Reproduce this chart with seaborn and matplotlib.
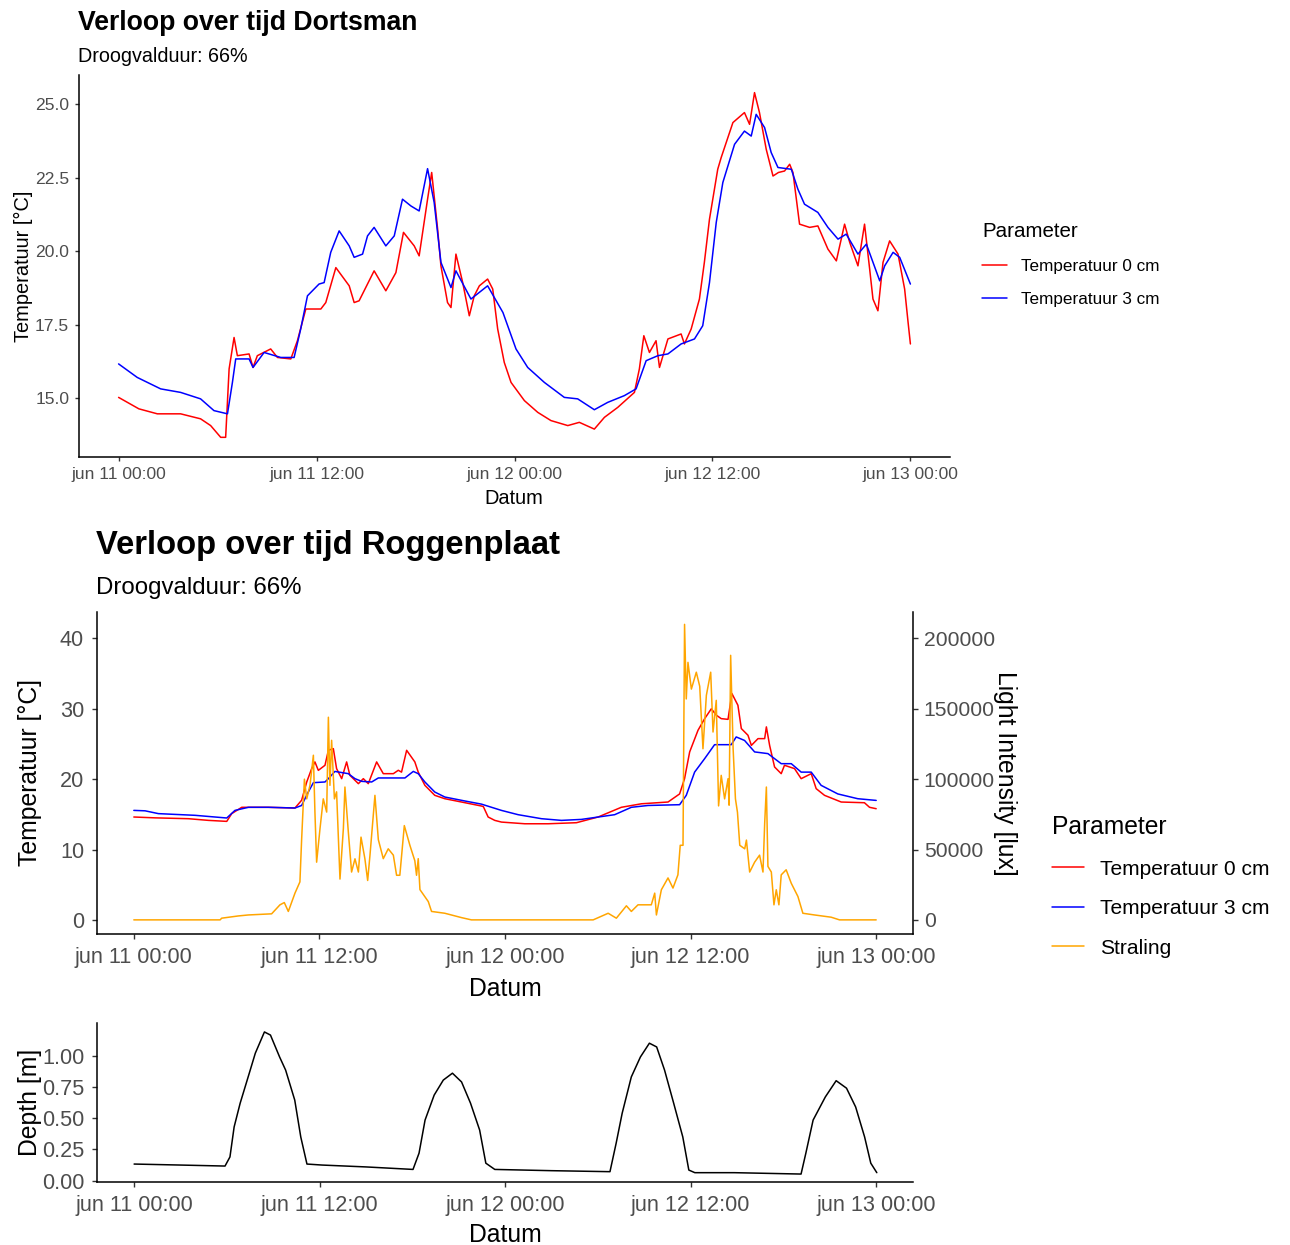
import numpy as np
import pandas as pd
import matplotlib
matplotlib.use("Agg")
import matplotlib.pyplot as plt
import seaborn as sns
from matplotlib.lines import Line2D

# ---------------- data ----------------
params = ["Temperatuur 0 cm", "Temperatuur 3 cm", "Straling"]
colors = ["red", "blue", "orange"]
xtick_hours = [0, 12, 24, 36, 48]
xtick_labels = ["jun 11 00:00", "jun 11 12:00", "jun 12 00:00", "jun 12 12:00", "jun 13 00:00"]

# Dortsman (hours since jun 11 00:00)
dort_t0_time = [0.0, 1.23, 2.35, 3.76, 4.97, 5.58, 6.19, 6.49, 6.7, 7.0, 7.2, 7.91, 8.15, 8.41, 9.22, 9.63,
                10.44, 10.84, 11.35, 12.26, 12.56, 13.17, 13.98, 14.28, 14.58, 15.49, 16.2, 16.81, 17.27,
                17.92, 18.22, 18.73, 18.98, 19.34, 19.54, 19.94, 20.15, 20.45, 20.86, 21.26, 21.56, 21.87,
                22.37, 22.68, 22.98, 23.38, 23.79, 24.6, 25.41, 26.21, 27.23, 27.93, 28.84, 29.45, 30.26,
                31.27, 31.57, 31.84, 32.18, 32.58, 32.79, 33.3, 34.1, 34.3, 34.71, 35.21, 35.51, 35.82,
                36.32, 36.53, 37.24, 37.94, 38.25, 38.55, 38.85, 39.26, 39.67, 40.0, 40.37, 40.68, 40.88,
                41.28, 41.89, 42.39, 43.0, 43.51, 44.01, 44.32, 44.82, 45.22, 45.53, 45.73, 46.03, 46.34,
                46.74, 47.25, 47.65, 47.86, 48.0]
dort_t0_temp = [15.02, 14.63, 14.46, 14.46, 14.29, 14.06, 13.66, 13.66, 15.99, 17.06, 16.44, 16.5, 16.04,
                16.44, 16.67, 16.38, 16.33, 16.95, 18.03, 18.03, 18.25, 19.44, 18.82, 18.25, 18.31, 19.33,
                18.65, 19.27, 20.64, 20.18, 19.84, 21.77, 22.68, 20.75, 19.5, 18.25, 18.08, 19.9, 18.93,
                17.8, 18.48, 18.82, 19.05, 18.71, 17.35, 16.21, 15.53, 14.91, 14.51, 14.23, 14.06, 14.17,
                13.94, 14.34, 14.68, 15.19, 15.99, 17.12, 16.55, 16.95, 16.04, 17.01, 17.18, 16.84, 17.35,
                18.37, 19.62, 21.09, 22.79, 23.19, 24.38, 24.72, 24.32, 25.4, 24.72, 23.47, 22.56, 22.68,
                22.73, 22.96, 22.68, 20.92, 20.81, 20.86, 20.07, 19.67, 20.92, 20.3, 19.5, 20.92, 19.39,
                18.37, 17.97, 19.62, 20.35, 19.9, 18.71, 17.57, 16.84]
dort_t3_time = [0.0, 1.13, 2.55, 3.76, 4.97, 5.78, 6.6, 6.9, 7.1, 7.91, 8.15, 8.82, 9.83, 10.64, 11.04,
                11.45, 12.15, 12.46, 12.86, 13.37, 13.98, 14.28, 14.79, 15.09, 15.49, 16.2, 16.71, 17.21,
                17.72, 18.22, 18.73, 19.13, 19.54, 20.15, 20.45, 21.36, 22.37, 23.3, 24.09, 24.8, 25.81,
                27.02, 27.83, 28.84, 29.65, 30.66, 31.37, 31.98, 32.69, 33.3, 34.1, 34.91, 35.41, 35.82,
                36.23, 36.63, 37.34, 37.94, 38.35, 38.65, 39.16, 39.56, 39.97, 40.78, 41.18, 41.58, 42.39,
                43.0, 43.61, 44.11, 44.82, 45.33, 46.14, 46.44, 46.95, 47.35, 48.0]
dort_t3_temp = [16.16, 15.7, 15.31, 15.19, 14.97, 14.57, 14.46, 15.53, 16.33, 16.33, 16.04, 16.55, 16.38,
                16.38, 17.35, 18.48, 18.88, 18.93, 19.96, 20.69, 20.18, 19.79, 19.9, 20.52, 20.81, 20.18,
                20.52, 21.77, 21.54, 21.37, 22.81, 21.66, 19.62, 18.76, 19.33, 18.37, 18.82, 17.91, 16.67,
                16.04, 15.53, 15.02, 14.97, 14.6, 14.85, 15.08, 15.31, 16.27, 16.44, 16.5, 16.84, 17.01,
                17.46, 18.93, 20.98, 22.34, 23.64, 24.09, 23.92, 24.66, 24.21, 23.36, 22.85, 22.79, 22.11,
                21.6, 21.32, 20.81, 20.41, 20.58, 19.9, 20.24, 18.99, 19.5, 19.96, 19.79, 18.88]

# Roggenplaat
rog_t0_time = [0.0, 1.38, 3.53, 4.83, 6.01, 6.33, 6.98, 8.7, 10.42, 10.85, 11.18, 11.5, 11.71, 11.93,
               12.36, 12.58, 12.9, 13.11, 13.44, 13.76, 13.97, 14.52, 14.84, 15.16, 15.7, 16.13, 16.78,
               17.1, 17.31, 17.64, 18.17, 18.39, 18.82, 19.46, 20.11, 21.19, 22.48, 22.6, 22.91, 23.34,
               23.77, 25.28, 26.79, 28.62, 30.02, 31.52, 32.82, 34.54, 35.29, 35.61, 35.94, 36.48, 36.91,
               37.34, 37.66, 37.98, 38.42, 38.67, 39.06, 39.28, 39.71, 39.93, 40.36, 40.79, 40.9, 41.11,
               41.43, 41.86, 42.07, 42.72, 43.15, 43.8, 44.12, 44.66, 45.74, 47.24, 47.57, 48.0]
rog_t0_temp = [14.62, 14.5, 14.38, 14.14, 14.0, 15.1, 16.0, 16.0, 15.9, 17.0, 19.6, 21.5, 22.45, 21.25,
               21.97, 24.1, 24.34, 21.5, 20.07, 22.45, 20.55, 19.36, 20.07, 19.36, 22.45, 20.78, 20.78,
               21.26, 21.0, 24.1, 22.45, 21.0, 19.12, 17.7, 17.22, 16.75, 16.18, 16.1, 14.62, 14.14,
               13.9, 13.66, 13.66, 13.81, 14.62, 16.0, 16.5, 16.75, 17.9, 20.07, 23.87, 26.95, 28.6,
               30.0, 29.1, 28.6, 28.5, 32.17, 30.5, 27.19, 26.24, 24.8, 25.76, 25.76, 27.43, 24.8,
               21.73, 20.78, 21.97, 21.5, 20.07, 20.78, 18.65, 17.7, 16.75, 16.65, 16.0, 15.8]
rog_t3_time = [0.0, 0.73, 1.59, 3.96, 5.25, 6.01, 6.54, 7.41, 8.7, 10.42, 10.85, 11.28, 11.61, 12.36,
               12.58, 13.0, 13.87, 14.3, 14.73, 15.38, 15.81, 17.53, 18.07, 18.39, 18.82, 19.46, 20.11,
               21.4, 22.48, 23.13, 23.77, 24.85, 26.36, 27.65, 28.94, 31.09, 32.17, 33.25, 35.29, 35.72,
               36.26, 36.91, 37.55, 38.63, 38.95, 39.49, 40.14, 41.0, 41.86, 42.51, 43.15, 43.8, 44.44,
               45.52, 46.81, 48.0]
rog_t3_temp = [15.56, 15.5, 15.1, 14.86, 14.62, 14.48, 15.56, 16.0, 16.0, 15.9, 16.26, 18.17, 19.5, 19.6,
               20.07, 21.1, 20.78, 20.07, 19.69, 19.6, 20.17, 20.17, 21.1, 20.78, 19.6, 18.17, 17.46,
               16.9, 16.45, 16.0, 15.56, 14.95, 14.38, 14.14, 14.28, 14.95, 16.0, 16.26, 16.37, 17.7,
               21.0, 22.92, 24.9, 24.9, 26.0, 25.5, 23.87, 23.63, 22.2, 22.2, 21.0, 21.0, 19.12, 17.9,
               17.22, 16.98]
rog_light_time = [0.0, 5.58, 5.68, 6.76, 7.41, 8.91, 9.45, 9.73, 9.99, 10.42, 10.74, 10.85, 11.03, 11.18,
                  11.39, 11.61, 11.71, 11.82, 12.04, 12.25, 12.47, 12.58, 12.68, 12.79, 12.97, 13.11,
                  13.33, 13.55, 13.65, 13.87, 14.08, 14.3, 14.52, 14.69, 14.94, 15.12, 15.27, 15.59,
                  15.81, 16.13, 16.45, 16.78, 16.99, 17.2, 17.49, 17.85, 18.17, 18.28, 18.39, 18.5,
                  19.04, 19.25, 20.11, 21.19, 21.83, 29.7, 30.67, 31.2, 31.85, 32.17, 32.6, 33.46, 33.68,
                  33.79, 34.11, 34.54, 34.86, 35.18, 35.33, 35.51, 35.61, 35.72, 35.83, 36.05, 36.37,
                  36.59, 36.8, 37.02, 37.3, 37.45, 37.66, 37.81, 37.98, 38.2, 38.42, 38.49, 38.59, 38.75,
                  38.9, 39.03, 39.18, 39.5, 39.61, 39.82, 40.14, 40.46, 40.68, 40.79, 40.9, 41.0, 41.22,
                  41.39, 41.54, 41.71, 41.86, 42.18, 42.51, 42.94, 43.26, 44.01, 45.09, 45.63, 48.0]
rog_light_lux = [0, 0, 1200, 2800, 3500, 4300, 10700, 12300, 6000, 19000, 27000, 57000, 100000, 86000,
                 95600, 117000, 76600, 41000, 65000, 86000, 76600, 144000, 95600, 127600, 86000, 91000,
                 29000, 65000, 94400, 62400, 34000, 43400, 34000, 58800, 43500, 28000, 46000, 88500,
                 57000, 43500, 50500, 46000, 31700, 31700, 67000, 53000, 42000, 31700, 43500, 21500,
                 13000, 6000, 4700, 1600, 0, 0, 4700, 1200, 10000, 6000, 10700, 10700, 19000,
                 3500, 21400, 29800, 22600, 32000, 53000, 53000, 210000, 157000, 183000, 164000, 176000,
                 166000, 121600, 159600, 176000, 133500, 156000, 81000, 102700, 86000, 100300, 81500,
                 188000, 121600, 86000, 76500, 53000, 50500, 56700, 34000, 41000, 46000, 34000, 68500,
                 94400, 38000, 34000, 10700, 21400, 10700, 32000, 35600, 26000, 16600, 4700, 3500, 1900,
                 0, 0]
depth_time = [0.0, 3.0, 5.88, 6.2, 6.47, 6.86, 7.45, 7.84, 8.43, 8.82, 9.41, 9.8, 10.39, 10.78, 11.18,
              12.16, 15.0, 18.04, 18.43, 18.82, 19.41, 20.0, 20.59, 21.18, 21.76, 22.35, 22.75, 23.33,
              27.0, 30.78, 31.18, 31.57, 32.16, 32.75, 33.33, 33.8, 34.31, 34.9, 35.49, 35.88, 36.27,
              38.82, 43.14, 43.45, 43.92, 44.71, 45.41, 46.08, 46.67, 47.25, 47.65, 48.04]
depth_m = [0.133, 0.125, 0.117, 0.19, 0.43, 0.62, 0.86, 1.02, 1.19, 1.165, 0.99, 0.885, 0.645, 0.35,
           0.133, 0.125, 0.11, 0.09, 0.22, 0.485, 0.685, 0.805, 0.86, 0.79, 0.62, 0.405, 0.14, 0.09,
           0.08, 0.072, 0.3, 0.54, 0.83, 0.99, 1.10, 1.07, 0.885, 0.62, 0.35, 0.085, 0.064, 0.064,
           0.053, 0.22, 0.485, 0.67, 0.80, 0.74, 0.59, 0.35, 0.14, 0.064]

top_yticks = [15.0, 17.5, 20.0, 22.5, 25.0]
mid_yticks = [0, 10, 20, 30, 40]
light_ticks = [0, 50000, 100000, 150000, 200000]
depth_ticks = [0.0, 0.25, 0.5, 0.75, 1.0]
light_scale = 5000  # lux per °C on the shared axis

# ---------------- style ----------------
sns.set_style("ticks")
plt.rcParams['font.family'] = ['Liberation Sans', 'DejaVu Sans']
plt.rcParams['text.color'] = 'black'
plt.rcParams['axes.labelcolor'] = 'black'
TICKC = "#4D4D4D"

W, H = 1290, 1245
fig = plt.figure(figsize=(W / 100, H / 100), dpi=100)


def box(l, t, r, b):
    return [l / W, 1 - b / H, (r - l) / W, (b - t) / H]


def style_ax(ax, fs, length, pad):
    for s in ["top", "right"]:
        ax.spines[s].set_visible(False)
    for s in ["left", "bottom"]:
        ax.spines[s].set_linewidth(1.1)
        ax.spines[s].set_color("black")
    ax.tick_params(direction="out", length=length, width=1.0, color="#333333",
                   labelcolor=TICKC, labelsize=fs, pad=pad)
    ax.set_xlim(-2.4, 50.4)
    ax.set_xticks(xtick_hours)
    ax.set_xticklabels(xtick_labels)


pal = dict(zip(params, colors))
LW = 1.1

# ---------- top panel: Dortsman ----------
ax1 = fig.add_axes(box(79, 75, 950, 456.7))
df1 = pd.DataFrame({
    "Datum": np.r_[dort_t0_time, dort_t3_time],
    "Temp": np.r_[dort_t0_temp, dort_t3_temp],
    "Parameter": [params[0]] * len(dort_t0_time) + [params[1]] * len(dort_t3_time),
})
sns.lineplot(data=df1, x="Datum", y="Temp", hue="Parameter", palette=pal, estimator=None,
             sort=False, lw=LW, legend=False, ax=ax1)
style_ax(ax1, 12.6, 2.9, 4.2)
ax1.set_ylim(13.0, 26.0)
ax1.set_yticks(top_yticks)
ax1.set_yticklabels([f"{v:.1f}" for v in top_yticks])
ax1.set_xlabel("Datum", fontsize=14.4)
ax1.set_ylabel("Temperatuur [°C]", fontsize=14.4)
ax1.xaxis.set_label_coords(514 / W, 1 - 504 / H, transform=fig.transFigure)
ax1.xaxis.label.set_va("baseline")
ax1.yaxis.set_label_coords(29 / W, 1 - 266 / H, transform=fig.transFigure)
ax1.yaxis.label.set_va("baseline")
fig.text(78 / W, 1 - 30 / H, "Verloop over tijd Dortsman", fontsize=19.2, fontweight="bold",
         va="baseline", ha="left")
fig.text(78 / W, 1 - 62 / H, "Droogvalduur: 66%", fontsize=14.2, va="baseline", ha="left")
h1 = [Line2D([], [], color=c, lw=LW) for c in colors[:2]]
leg1 = ax1.legend(h1, params[:2], title="Parameter", loc="upper left",
                  bbox_to_anchor=(982 / W, 1 - 222 / H), bbox_transform=fig.transFigure,
                  frameon=False, fontsize=12.3, title_fontsize=14.8, handlelength=1.46,
                  handletextpad=0.82, labelspacing=1.05, borderpad=0, borderaxespad=0,
                  alignment="left")

# ---------- middle panel: Roggenplaat ----------
ax2 = fig.add_axes(box(96.7, 611.7, 913.3, 934.3))
df2 = pd.DataFrame({
    "Datum": np.r_[rog_t0_time, rog_t3_time, rog_light_time],
    "Value": np.r_[rog_t0_temp, rog_t3_temp, np.array(rog_light_lux) / light_scale],
    "Parameter": [params[0]] * len(rog_t0_time) + [params[1]] * len(rog_t3_time)
                 + [params[2]] * len(rog_light_time),
})
sns.lineplot(data=df2, x="Datum", y="Value", hue="Parameter", hue_order=params, palette=pal,
             estimator=None, sort=False, lw=LW, legend=False, ax=ax2)
style_ax(ax2, 15.6, 3.6, 5.5)
ax2.set_ylim(-2.05, 43.8)
ax2.set_yticks(mid_yticks)
ax2.set_yticklabels([str(v) for v in mid_yticks])
ax2.set_xlabel("Datum", fontsize=17.8)
ax2.set_ylabel("Temperatuur [°C]", fontsize=17.8)
ax2.xaxis.set_label_coords(505 / W, 1 - 996 / H, transform=fig.transFigure)
ax2.xaxis.label.set_va("baseline")
ax2.yaxis.set_label_coords(37 / W, 1 - 773 / H, transform=fig.transFigure)
ax2.yaxis.label.set_va("baseline")
sec = ax2.secondary_yaxis("right", functions=(lambda v: v * light_scale, lambda v: v / light_scale))
sec.set_yticks(light_ticks)
sec.set_yticklabels([str(v) for v in light_ticks])
sec.spines["right"].set_linewidth(1.1)
sec.spines["right"].set_color("black")
sec.tick_params(direction="out", length=3.6, width=1.0, color="#333333", labelcolor=TICKC,
                labelsize=15.2, pad=4)
sec.set_ylabel("Light Intensity [lux]", fontsize=17.8, rotation=-90)
sec.yaxis.set_label_coords(998 / W, 1 - 773 / H, transform=fig.transFigure)
sec.yaxis.label.set_va("baseline")
fig.text(96 / W, 1 - 554 / H, "Verloop over tijd Roggenplaat", fontsize=23.6, fontweight="bold",
         va="baseline", ha="left")
fig.text(96 / W, 1 - 594 / H, "Droogvalduur: 66%", fontsize=17.3, va="baseline", ha="left")
h2 = [Line2D([], [], color=c, lw=LW) for c in colors]
leg2 = ax2.legend(h2, params, title="Parameter", loc="upper left",
                  bbox_to_anchor=(1052 / W, 1 - 815 / H), bbox_transform=fig.transFigure,
                  frameon=False, fontsize=15.1, title_fontsize=17.7, handlelength=1.52,
                  handletextpad=0.76, labelspacing=0.98, borderpad=0, borderaxespad=0,
                  alignment="left")

# ---------- bottom panel: depth ----------
ax3 = fig.add_axes(box(97, 1022.7, 913.3, 1182.3))
df3 = pd.DataFrame({"Datum": depth_time, "Depth": depth_m})
sns.lineplot(data=df3, x="Datum", y="Depth", color="black", estimator=None, sort=False,
             lw=LW, ax=ax3)
style_ax(ax3, 15.6, 3.6, 5.5)
ax3.set_ylim(-0.013, 1.264)
ax3.set_yticks(depth_ticks)
ax3.set_yticklabels([f"{v:.2f}" for v in depth_ticks])
ax3.set_xlabel("Datum", fontsize=17.8)
ax3.set_ylabel("Depth [m]", fontsize=17.8)
ax3.xaxis.set_label_coords(505 / W, 1 - 1242 / H, transform=fig.transFigure)
ax3.xaxis.label.set_va("baseline")
ax3.yaxis.set_label_coords(37 / W, 1 - 1102 / H, transform=fig.transFigure)
ax3.yaxis.label.set_va("baseline")

fig.savefig("out.png", dpi=100, facecolor="white")
